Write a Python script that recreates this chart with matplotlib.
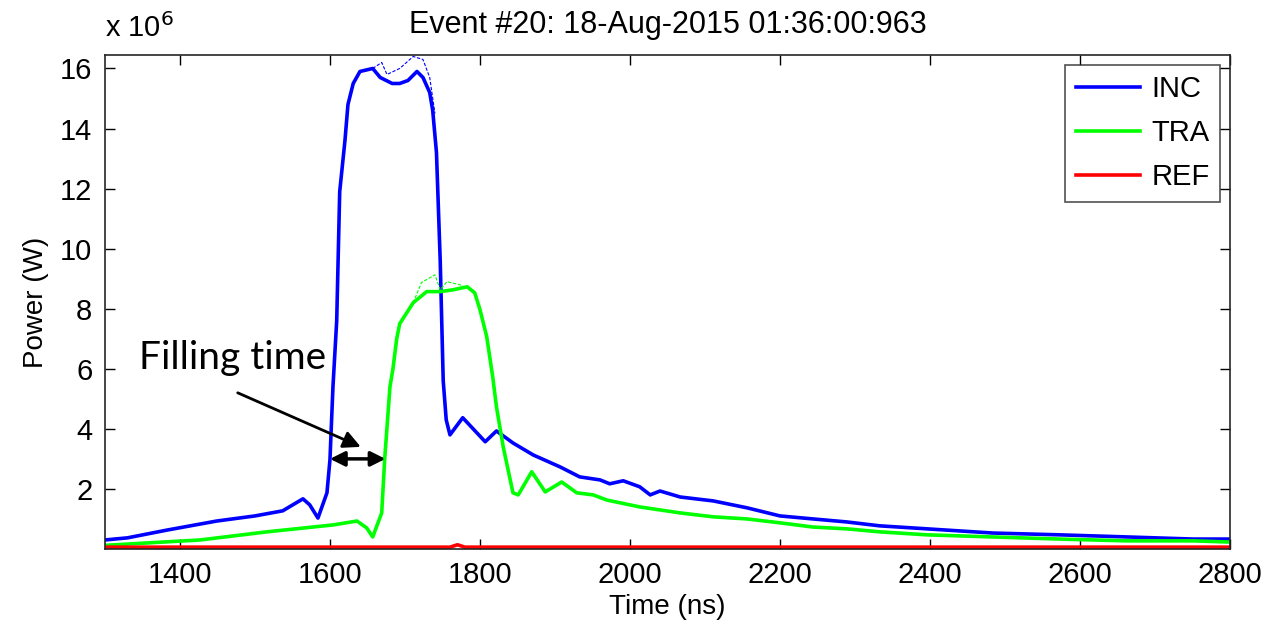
"""Recreate the INC / TRA / REF power trace chart for event #20."""

import matplotlib

matplotlib.use("Agg")
import matplotlib.pyplot as plt

# Incident power (x 1e6 W)
INC_T = [1300, 1330, 1383, 1449, 1500, 1537, 1564, 1573, 1584, 1596, 1600, 1604,
         1609, 1613, 1620, 1624, 1631, 1640, 1657, 1667, 1683, 1693, 1704, 1716,
         1724, 1733, 1737, 1742, 1747, 1751, 1755, 1760, 1777, 1807, 1822, 1844,
         1871, 1907, 1933, 1960, 1973, 1991, 2013, 2027, 2040, 2067, 2111, 2156,
         2200, 2244, 2289, 2333, 2396, 2484, 2573, 2663, 2751, 2800]
INC_P = [0.30, 0.37, 0.63, 0.93, 1.10, 1.27, 1.67, 1.47, 1.03, 1.87, 2.97, 5.4,
         7.6, 11.9, 13.6, 14.8, 15.5, 15.9, 16.0, 15.7, 15.5, 15.5, 15.6, 15.9,
         15.7, 15.2, 14.6, 13.2, 9.6, 5.6, 4.3, 3.8, 4.37, 3.57, 3.93, 3.53,
         3.13, 2.73, 2.40, 2.30, 2.17, 2.27, 2.07, 1.80, 1.93, 1.73, 1.60, 1.37,
         1.10, 1.00, 0.90, 0.77, 0.67, 0.53, 0.47, 0.40, 0.33, 0.33]

# Second (thin) incident trace around the flat top
INC2_T = [1657, 1669, 1676, 1693, 1711, 1724, 1733, 1740]
INC2_P = [16.0, 16.2, 15.8, 16.0, 16.4, 16.3, 15.7, 14.5]

# Transmitted power (x 1e6 W)
TRA_T = [1300, 1427, 1516, 1604, 1636, 1649, 1657, 1669, 1673, 1680, 1684,
         1689, 1693, 1711, 1729, 1747, 1764, 1783, 1793, 1800, 1809, 1817,
         1822, 1831, 1844, 1851, 1869, 1887, 1909, 1929, 1951, 1969, 2013,
         2067, 2111, 2156, 2200, 2244, 2289, 2333, 2396, 2484, 2573, 2663,
         2751, 2800]
TRA_P = [0.12, 0.30, 0.57, 0.80, 0.93, 0.70, 0.40, 1.20, 3.0, 5.4, 6.0,
         7.0, 7.5, 8.2, 8.57, 8.57, 8.63, 8.73, 8.53, 7.97, 7.07, 5.73,
         4.73, 3.40, 1.87, 1.80, 2.57, 1.90, 2.23, 1.87, 1.80, 1.63, 1.40,
         1.20, 1.07, 1.00, 0.87, 0.73, 0.67, 0.57, 0.47, 0.40, 0.33, 0.27,
         0.27, 0.23]

TRA2_T = [1711, 1722, 1740, 1747, 1756, 1773, 1790]
TRA2_P = [8.2, 8.87, 9.13, 8.63, 8.9, 8.8, 8.6]

# Reflected power (x 1e6 W)
REF_T = [1300, 1760, 1770, 1780, 2800]
REF_P = [0.06, 0.06, 0.14, 0.06, 0.06]

X_TICKS = [1400, 1600, 1800, 2000, 2200, 2400, 2600, 2800]
Y_TICKS = [2, 4, 6, 8, 10, 12, 14, 16]

TITLE = "Event #20: 18-Aug-2015 01:36:00:963"
FONT = "Liberation Sans"

fig = plt.figure(figsize=(12.72, 6.21), dpi=100)
ax = fig.add_axes([0.0825, 0.116, 0.8845, 0.7955])

ax.plot(INC_T, INC_P, color="#0000ff", linewidth=2.6, label="INC")
ax.plot(TRA_T, TRA_P, color="#00ff00", linewidth=2.6, label="TRA")
ax.plot(REF_T, REF_P, color="#ff0000", linewidth=2.6, label="REF")
ax.plot(INC2_T, INC2_P, color="#0000ff", linewidth=0.8, linestyle=(0, (3, 1.5)))
ax.plot(TRA2_T, TRA2_P, color="#00ff00", linewidth=0.8, linestyle=(0, (3, 1.5)))

ax.set_xlim(1300, 2800)
ax.set_ylim(0, 16.45)
ax.set_xticks(X_TICKS)
ax.set_yticks(Y_TICKS)
ax.tick_params(direction="in", length=7, width=1, top=True, right=True,
               labelsize=21, pad=9)
for lbl in ax.get_xticklabels() + ax.get_yticklabels():
    lbl.set_family(FONT)
for side in ax.spines.values():
    side.set_linewidth(1.2)
    side.set_color("#262626")

ax.set_xlabel("Time (ns)", fontsize=20, family=FONT, labelpad=3)
ax.set_ylabel("Power (W)", fontsize=20, family=FONT, labelpad=8)
ax.set_title(TITLE, fontsize=22, family=FONT, pad=16)
ax.text(0.0, 1.025, r"x 10$^{6}$", transform=ax.transAxes, fontsize=21,
        family=FONT, ha="left", va="bottom")

leg = ax.legend(loc="upper right", prop={"family": FONT, "size": 21},
                frameon=True, fancybox=False, edgecolor="#262626",
                handlelength=2.2, handletextpad=0.4, borderaxespad=0.35,
                labelspacing=0.55, borderpad=0.35)
leg.get_frame().set_linewidth(1.2)

# Filling-time annotation
ax.annotate("", xy=(1600, 3.0), xytext=(1674, 3.0),
            arrowprops=dict(arrowstyle="<|-|>", color="black", lw=2.5,
                            mutation_scale=22, shrinkA=0, shrinkB=0))
ax.annotate("", xy=(1641, 3.4), xytext=(1477, 5.2),
            arrowprops=dict(arrowstyle="-|>", color="black", lw=2,
                            mutation_scale=26, shrinkA=0, shrinkB=0))
ax.text(1345, 6.37, "Filling time", fontsize=28, family="Lato",
        ha="left", va="center")

fig.savefig("out.png", dpi=100)
